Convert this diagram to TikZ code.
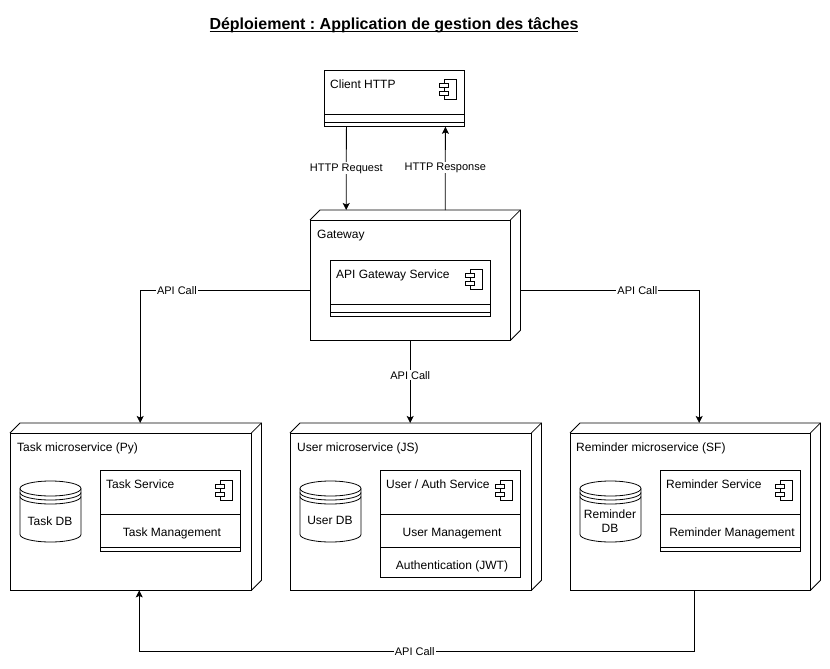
\documentclass[tikz,border=0pt]{standalone}
\usepackage{fontspec}
\setmainfont{Liberation Sans}
\usetikzlibrary{arrows.meta, calc}
\frenchspacing
\newcommand{\ulinetxt}[1]{\setbox0\hbox{#1}\rlap{\rule[-2.2pt]{\wd0}{1.2pt}}\box0}

\begin{document}
\begin{tikzpicture}[
    x=1pt, y=-1pt,
    >={Stealth[length=7pt,width=7pt,inset=1.5pt]},
    every node/.style={font=\fontsize{12}{14}\selectfont},
    edge/.style={black, line width=0.8pt},
    outer/.style={anchor=north west, inner sep=0pt, minimum height=167pt},
    comp/.style={edge, draw, anchor=north west, inner sep=0pt, minimum width=140pt},
    txt/.style={inner sep=0pt, text height=8.6pt, text depth=0pt},
    dbtxt/.style={inner sep=0pt, align=center},
    conn/.style={edge, ->},
    lbl/.style={fill=white, inner sep=1pt, font=\fontsize{11}{13}\selectfont}
]

\useasboundingbox (0,0) rectangle (830,669);

% -------- Title --------
\node[anchor=base, font=\fontsize{16}{18}\bfseries\selectfont] (title) at (394,30) {\ulinetxt{Déploiement : Application de gestion des tâches}};

% -------- Y levels --------
\def\ytop{423}
\def\ycomp{470}

% -------- Client --------
\node[comp, minimum height=56pt] (client) at (324,70) {};
\node[txt, anchor=west] (clienttxt) at (330,84) {Client HTTP};

% -------- Gateway --------
\node[outer, minimum width=210pt, minimum height=130pt] (gateway) at (310,210) {};
\node[txt, anchor=west] (gatewaytxt) at (317,234) {Gateway};
\node[comp, minimum width=160pt, minimum height=56pt] (apisvc) at (330,260) {};
\node[txt, anchor=west] (apitxt) at (336,274) {API Gateway Service};

% -------- Microservices --------
\node[outer, minimum width=251pt] (taskms) at (10,\ytop) {};
\node[outer, minimum width=251pt] (userms) at (290,\ytop) {};
\node[outer, minimum width=250pt] (remms) at (570,\ytop) {};

\node[txt, anchor=west] (tasktxt) at (17,447) {Task microservice (Py)};
\node[txt, anchor=west] (usertxt) at (297,447) {User microservice (JS)};
\node[txt, anchor=west] (remtxt) at (576,447) {Reminder microservice (SF)};

% services
\node[comp, minimum height=81pt] (tasksvc) at (100,\ycomp) {};
\node[comp, minimum height=107pt] (usersvc) at (380,\ycomp) {};
\node[comp, minimum height=81pt] (remsvc) at (660,\ycomp) {};

\node[txt, anchor=west] (tasksvctxt) at (106,484) {Task Service};
\node[txt, anchor=west] (usersvctxt) at (386,484) {User / Auth Service};
\node[txt, anchor=west] (remsvctxt) at (666,484) {Reminder Service};

\node[txt] (taskmgmt) at (172,532) {Task Management};
\node[txt] (usermgmt) at (452,532) {User Management};
\node[txt] (authjwt) at (452,565) {Authentication (JWT)};
\node[txt] (remmgmt) at (732,532) {Reminder Management};

% compartment lines
\foreach \n/\y in {client/114,client/122,apisvc/304,apisvc/312,tasksvc/514,tasksvc/547,usersvc/514,usersvc/547,remsvc/514,remsvc/547} {
    \draw[edge] (\n.west |- 0,\y) -- (\n.east |- 0,\y);
}

% -------- Node boxes --------
\foreach \n in {gateway,taskms,userms,remms} {
    \draw[edge] ([yshift=-10pt]\n.north west) rectangle ([xshift=-10pt]\n.south east);
    \draw[edge] ([yshift=-10pt]\n.north west) -- ([xshift=10pt]\n.north west) -- (\n.north east)
        -- ([yshift=10pt]\n.south east) -- ([xshift=-10pt]\n.south east);
    \draw[edge] ([shift={(-10pt,-10pt)}]\n.north east) -- (\n.north east);
}

% -------- Component icons --------
\foreach \x/\y in {439/79,465/269,215/480,495/480,775/480} {
    \draw[edge] (\x+5,\y) rectangle (\x+17,\y+20);
    \draw[edge, fill=white] (\x,\y+4) rectangle (\x+9,\y+8);
    \draw[edge, fill=white] (\x,\y+12) rectangle (\x+9,\y+16);
}

% -------- Databases --------
\foreach \x in {20,300,580} {
    \draw[edge] (\x,488.5) arc[start angle=180, end angle=0, x radius=30.5pt, y radius=7.5pt]
        -- (\x+61,534.5) arc[start angle=0, end angle=-180, x radius=30.5pt, y radius=7.5pt] -- cycle;
    \draw[edge] (\x,488.5) arc[start angle=180, end angle=360, x radius=30.5pt, y radius=7.5pt];
    \draw[edge] (\x,492.5) arc[start angle=180, end angle=360, x radius=30.5pt, y radius=7.5pt];
    \draw[edge] (\x,496.5) arc[start angle=180, end angle=360, x radius=30.5pt, y radius=7.5pt];
}
\node[dbtxt] (taskdb) at (50,521) {Task DB};
\node[dbtxt] (userdb) at (330,520) {User DB};
\node[dbtxt] (remdb) at (610,521) {Reminder\\DB};

% -------- Connectors --------
\draw[conn] ([xshift=-48pt]client.south) -- node[lbl, pos=0.5] (lblreq) {HTTP Request} ([xshift=-69pt]gateway.north);
\draw[conn] ([xshift=30pt]gateway.north) -- node[lbl, pos=0.51] (lblresp) {HTTP Response} ([xshift=51pt]client.south);

\draw[conn] ([yshift=-15pt]gateway.west) -| node[lbl, pos=0.392] (lblleft) {API Call} ([xshift=4.5pt]taskms.north);
\draw[conn] ([yshift=-15pt]gateway.east) -| node[lbl, pos=0.327] (lblright) {API Call} ([xshift=4pt]remms.north);
\draw[conn] ([xshift=-5pt]gateway.south) -- node[lbl, pos=0.42] (lblmid) {API Call} ([xshift=-5.5pt]userms.north);

\draw[conn] ([xshift=-0.5pt]remms.south) -- ++(0,61) -| node[lbl, pos=0.252] (lblback) {API Call} ([xshift=3.5pt]taskms.south);

\end{tikzpicture}
\end{document}
